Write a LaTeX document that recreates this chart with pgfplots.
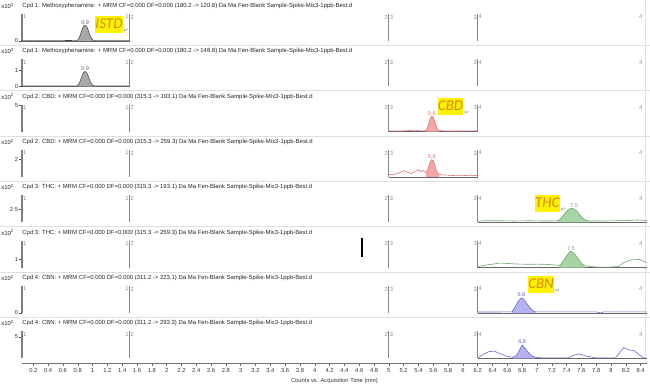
\documentclass[border=0pt]{standalone}
\usepackage{fontspec}
\setmainfont{Liberation Sans}
\newfontfamily\carlito{Carlito}
\newfontfamily\dejavu{DejaVu Sans}
\usepackage{pgfplots}
\pgfplotsset{compat=1.18}

\definecolor{istdline}{HTML}{505050}
\definecolor{istdfill}{HTML}{A8A8A8}
\definecolor{cbdline}{HTML}{E07070}
\definecolor{cbdfill}{HTML}{F5A5A5}
\definecolor{thcline}{HTML}{6EA36E}
\definecolor{thcfill}{HTML}{A6D4A6}
\definecolor{cbnline}{HTML}{6A6AC4}
\definecolor{cbnfill}{HTML}{B4B4F2}
\definecolor{hl}{HTML}{FFF200}
\definecolor{hltext}{HTML}{D98A00}

\newcommand{\tf}{\fontsize{5.8}{6.5}\selectfont}
\newcommand{\ttf}{\fontsize{5.95}{6.5}\selectfont}

\tikzset{
 segline/.style={black!48, line width=1.3pt},
 seglab/.style={font=\tf, text=black!45, inner sep=0.8pt},
 base/.style={black!60, line width=0.5pt},
}
\pgfplotsset{
 panel/.style={scale only axis, width=624.4pt, height=27pt, xmin=0.05, xmax=8.48, ymin=0, clip=false,
   axis x line=none, axis y line*=left, xtick=\empty,
   y axis line style={draw=black!50, line width=2pt, -},
   tick align=outside, ytick pos=left, major tick length=3pt,
   ytick style={black!70, line width=0.5pt},
   yticklabel style={font=\tf, text=black!80, inner sep=1pt},
   /pgf/number format/assume math mode=true,
   anchor=south west},
}

\newcommand{\decor}[3]{%
  \addplot[segline] coordinates {(1.5,0) (1.5,#1)};
  \addplot[segline] coordinates {(5,0) (5,#1)};
  \addplot[segline] coordinates {(6.2,0) (6.2,#1)};
  \node[seglab,anchor=north west] at (axis cs:0.05,#1) {1};
  \node[seglab,anchor=north east] at (axis cs:1.5,#1) {1};
  \node[seglab,anchor=north west] at (axis cs:1.5,#1) {2};
  \node[seglab,anchor=north east] at (axis cs:5,#1) {2};
  \node[seglab,anchor=north west] at (axis cs:5,#1) {3};
  \node[seglab,anchor=north east] at (axis cs:6.2,#1) {3};
  \node[seglab,anchor=north west] at (axis cs:6.2,#1) {4};
  \node[seglab,anchor=north] at (axis cs:8.40,#1) {4};
  \node[anchor=west,inner sep=0,font=\ttf,text=black!85] at ([yshift=8pt]rel axis cs:0,1) {#3};
  \node[anchor=west,inner sep=0,font=\ttf,text=black!85] at ([xshift=-21pt,yshift=8pt]rel axis cs:0,1) {x10\textsuperscript{#2}};
  \draw[black!12, line width=1.5pt] ([xshift=-1pt,yshift=-4.5pt]rel axis cs:1,0) -- ([xshift=-1pt,yshift=14pt]rel axis cs:1,1);
}
\newcommand{\sep}{\draw[black!12, line width=1.2pt] ([xshift=-22.2pt,yshift=-4.5pt]rel axis cs:0,0) -- ([xshift=3.4pt,yshift=-4.5pt]rel axis cs:1,0);}

\newcommand{\annot}[3]{%
 \node[fill=hl, text=hltext, font=\carlito\itshape\fontsize{15}{16}\selectfont, inner xsep=0.3pt, inner ysep=1pt, text height=11pt, text depth=3.5pt] (a) at (rel axis cs:#1,#2) {#3};
 \node[anchor=south west, inner sep=0.5pt, font=\dejavu\fontsize{6}{7}\selectfont, text=black!50] at (a.south east) {↵};
}
\newcommand{\pk}[4]{\node[anchor=south, inner sep=0.8pt, font=\fontsize{5.5}{6}\selectfont, text=#4] at (axis cs:#1,#2) {#3};}

\begin{document}
\begin{tikzpicture}
\path[use as bounding box] (0,0) rectangle (650pt,-387pt);

% ---------- Panel 1 ----------
\begin{axis}[panel, at={(22.2pt,-41pt)}, ymax=1.7, ytick={0}]
\decor{1.7}{3}{Cpd 1: Methoxyphenamine: + MRM CF=0.000 DF=0.000 (180.2 -> 120.8) Da Ma Fen-Blank Sample-Spike-Mix3-1ppb-Best.d}
\sep
\addplot[base] coordinates {(0.05,0) (1.5,0)};
\addplot[fill=istdfill, draw=none] coordinates {(0.78,0.02)(0.80,0.06)(0.82,0.2)(0.84,0.45)(0.86,0.75)(0.88,0.95)(0.90,1.0)(0.92,0.92)(0.94,0.7)(0.96,0.42)(0.98,0.2)(1.00,0.08)(1.02,0.03)(1.05,0.02)} \closedcycle;
\addplot[istdline, line width=0.6pt] coordinates {(0.05,0.02)(0.3,0.02)(0.6,0.02)(0.78,0.02)(0.80,0.06)(0.82,0.2)(0.84,0.45)(0.86,0.75)(0.88,0.95)(0.90,1.0)(0.92,0.92)(0.94,0.7)(0.96,0.42)(0.98,0.2)(1.00,0.08)(1.02,0.03)(1.05,0.02)(1.5,0.02)};
\addplot[black!75, line width=1pt] coordinates {(0.63,0.04)(0.72,0.04)};
\pk{0.9}{1.0}{0.9}{black!60}
\annot{0.139}{0.61}{ISTD}
\end{axis}

% ---------- Panel 2 ----------
\begin{axis}[panel, at={(22.2pt,-86.3pt)}, ymax=1.69, ytick={0,1}]
\decor{1.69}{3}{Cpd 1: Methoxyphenamine: + MRM CF=0.000 DF=0.000 (180.2 -> 148.8) Da Ma Fen-Blank Sample-Spike-Mix3-1ppb-Best.d}
\sep
\addplot[base] coordinates {(0.05,0) (1.5,0)};
\addplot[fill=istdfill, draw=none] coordinates {(0.78,0.02)(0.80,0.05)(0.82,0.18)(0.84,0.42)(0.86,0.7)(0.88,0.88)(0.90,0.93)(0.92,0.86)(0.94,0.65)(0.96,0.4)(0.98,0.18)(1.00,0.07)(1.02,0.03)(1.05,0.02)} \closedcycle;
\addplot[istdline, line width=0.6pt] coordinates {(0.05,0.02)(0.4,0.02)(0.78,0.02)(0.80,0.05)(0.82,0.18)(0.84,0.42)(0.86,0.7)(0.88,0.88)(0.90,0.93)(0.92,0.86)(0.94,0.65)(0.96,0.4)(0.98,0.18)(1.00,0.07)(1.02,0.03)(1.05,0.02)(1.5,0.02)};
\pk{0.9}{0.93}{0.9}{black!60}
\end{axis}

% ---------- Panel 3 ----------
\begin{axis}[panel, at={(22.2pt,-131.7pt)}, ymax=5.1, ytick={5}]
\decor{5.1}{2}{Cpd 2: CBD: + MRM CF=0.000 DF=0.000 (315.3 -> 193.1) Da Ma Fen-Blank Sample-Spike-Mix3-1ppb-Best.d}
\sep
\addplot[base] coordinates {(5,0) (6.2,0)};
\addplot[fill=cbdfill, draw=none] coordinates {(5.5,0.2)(5.52,0.6)(5.54,1.5)(5.56,2.5)(5.58,2.95)(5.60,2.7)(5.62,1.9)(5.64,1.0)(5.66,0.4)(5.68,0.2)} \closedcycle;
\addplot[cbdline, line width=0.6pt] coordinates {(5.0,0.15)(5.1,0.12)(5.2,0.15)(5.3,0.25)(5.35,0.3)(5.4,0.2)(5.45,0.15)(5.5,0.2)(5.52,0.6)(5.54,1.5)(5.56,2.5)(5.58,2.95)(5.60,2.7)(5.62,1.9)(5.64,1.0)(5.66,0.4)(5.68,0.2)(5.75,0.15)(5.9,0.12)(6.0,0.15)(6.2,0.15)};
\pk{5.58}{2.95}{5.6}{cbdline}
\annot{0.686}{0.94}{CBD}
\end{axis}

% ---------- Panel 4 ----------
\begin{axis}[panel, at={(22.2pt,-177pt)}, ymax=3.0, ytick={2}]
\decor{3.0}{2}{Cpd 2: CBD: + MRM CF=0.000 DF=0.000 (315.3 -> 259.3) Da Ma Fen-Blank Sample-Spike-Mix3-1ppb-Best.d}
\sep
\addplot[base] coordinates {(5,0) (6.2,0)};
\addplot[fill=cbdfill, draw=none] coordinates {(5.5,0.5)(5.52,0.7)(5.54,1.2)(5.56,1.7)(5.58,1.93)(5.60,1.8)(5.62,1.3)(5.64,0.7)(5.66,0.4)(5.68,0.3)} \closedcycle;
\addplot[cbdline, line width=0.6pt] coordinates {(5.0,0.3)(5.05,0.25)(5.1,0.35)(5.15,0.5)(5.2,0.7)(5.25,0.55)(5.3,0.4)(5.35,0.6)(5.4,0.8)(5.43,0.6)(5.46,0.75)(5.5,0.5)(5.52,0.7)(5.54,1.2)(5.56,1.7)(5.58,1.93)(5.60,1.8)(5.62,1.3)(5.64,0.7)(5.66,0.4)(5.7,0.25)(5.8,0.2)(5.9,0.15)(6.0,0.15)(6.1,0.2)(6.2,0.15)};
\pk{5.58}{1.93}{5.6}{cbdline}
\end{axis}

% ---------- Panel 5 ----------
\begin{axis}[panel, at={(22.2pt,-222.3pt)}, ymax=5.2, ytick={2.5}]
\decor{5.2}{2}{Cpd 3: THC: + MRM CF=0.000 DF=0.000 (315.3 -> 193.1) Da Ma Fen-Blank Sample-Spike-Mix3-1ppb-Best.d}
\sep
\addplot[base] coordinates {(6.2,0) (8.48,0)};
\addplot[fill=thcfill, draw=none] coordinates {(7.28,0.3)(7.32,0.7)(7.36,1.4)(7.40,2.1)(7.44,2.6)(7.47,2.7)(7.50,2.55)(7.54,2.1)(7.58,1.4)(7.62,0.75)(7.66,0.35)(7.70,0.25)} \closedcycle;
\addplot[thcline, line width=0.6pt] coordinates {(6.2,0.2)(6.3,0.3)(6.5,0.3)(6.7,0.25)(6.9,0.3)(7.1,0.25)(7.2,0.25)(7.28,0.3)(7.32,0.7)(7.36,1.4)(7.40,2.1)(7.44,2.6)(7.47,2.7)(7.50,2.55)(7.54,2.1)(7.58,1.4)(7.62,0.75)(7.66,0.35)(7.70,0.25)(7.9,0.25)(8.1,0.3)(8.25,0.35)(8.35,0.45)(8.48,0.35)};
\pk{7.50}{2.7}{7.5}{thcline}
\annot{0.841}{0.69}{THC}
\end{axis}

% ---------- Panel 6 ----------
\begin{axis}[panel, at={(22.2pt,-267.7pt)}, ymax=3.2, ytick={1}]
\decor{3.2}{2}{Cpd 3: THC: + MRM CF=0.000 DF=0.000 (315.3 -> 259.3) Da Ma Fen-Blank Sample-Spike-Mix3-1ppb-Best.d}
\sep
\addplot[base] coordinates {(6.2,0) (8.48,0)};
\addplot[fill=thcfill, draw=none] coordinates {(7.3,0.27)(7.33,0.5)(7.37,1.0)(7.41,1.5)(7.45,1.95)(7.48,1.85)(7.52,1.5)(7.56,1.0)(7.60,0.5)(7.64,0.25)} \closedcycle;
\addplot[thcline, line width=0.6pt] coordinates {(6.2,0.15)(6.3,0.3)(6.4,0.42)(6.5,0.55)(6.6,0.5)(6.7,0.45)(6.8,0.42)(6.9,0.4)(7.0,0.42)(7.1,0.4)(7.2,0.35)(7.3,0.27)(7.33,0.5)(7.37,1.0)(7.41,1.5)(7.45,1.95)(7.48,1.85)(7.52,1.5)(7.56,1.0)(7.60,0.5)(7.64,0.25)(7.7,0.15)(7.85,0.05)(8.0,0.08)(8.1,0.15)(8.17,0.6)(8.24,0.86)(8.3,0.95)(8.38,0.98)(8.44,0.75)(8.48,0.6)};
\pk{7.46}{1.95}{7.5}{thcline}
\addplot[black, line width=1.4pt] coordinates {(4.64,1.3)(4.64,3.55)};
\end{axis}

% ---------- Panel 7 ----------
\begin{axis}[panel, at={(22.2pt,-313pt)}, ymax=1.84, ytick={0}]
\decor{1.84}{2}{Cpd 4: CBN: + MRM CF=0.000 DF=0.000 (311.2 -> 223.1) Da Ma Fen-Blank Sample-Spike-Mix3-1ppb-Best.d}
\sep
\addplot[base] coordinates {(6.2,0) (8.48,0)};
\addplot[fill=cbnfill, draw=none] coordinates {(6.66,0.08)(6.70,0.35)(6.74,0.75)(6.78,1.0)(6.80,1.02)(6.83,0.88)(6.86,0.65)(6.90,0.38)(6.94,0.17)(6.98,0.08)} \closedcycle;
\addplot[cbnline, line width=0.6pt] coordinates {(6.2,0.07)(6.5,0.07)(6.66,0.08)(6.70,0.35)(6.74,0.75)(6.78,1.0)(6.80,1.02)(6.83,0.88)(6.86,0.65)(6.90,0.38)(6.94,0.17)(6.98,0.08)(7.4,0.08)(7.8,0.08)(7.86,0.0)(7.9,0.08)(8.48,0.08)};
\pk{6.79}{1.02}{6.8}{cbnline}
\annot{0.831}{1.056}{CBN}
\end{axis}

% ---------- Panel 8 ----------
\begin{axis}[panel, at={(22.2pt,-358.3pt)}, ymax=6.3, ytick={5}]
\decor{6.3}{2}{Cpd 4: CBN: + MRM CF=0.000 DF=0.000 (311.2 -> 293.3) Da Ma Fen-Blank Sample-Spike-Mix3-1ppb-Best.d}
\addplot[base] coordinates {(6.2,0) (8.48,0)};
\addplot[fill=cbnfill, draw=none] coordinates {(6.67,0.23)(6.72,0.6)(6.76,1.8)(6.80,3.1)(6.84,2.3)(6.88,1.4)(6.93,0.6)(6.98,0.23)} \closedcycle;
\addplot[cbnline, line width=0.6pt] coordinates {(6.2,0.1)(6.26,0.77)(6.35,1.55)(6.42,1.71)(6.49,1.17)(6.58,0.54)(6.67,0.23)(6.72,0.6)(6.76,1.8)(6.80,3.1)(6.84,2.3)(6.88,1.4)(6.93,0.6)(6.98,0.23)(7.07,0.1)(7.43,0.1)(7.50,0.77)(7.57,1.0)(7.66,0.54)(7.79,0.1)(8.06,0.1)(8.17,2.5)(8.24,1.95)(8.31,1.8)(8.40,0.54)(8.44,0.1)(8.48,0.1)};
\pk{6.80}{3.1}{6.8}{cbnline}
\end{axis}

% ---------- Bottom time axis ----------
\begin{axis}[scale only axis, width=624.4pt, height=1pt, at={(22.2pt,-363.5pt)}, anchor=south west,
  xmin=0.05, xmax=8.48, ymin=0, ymax=1, axis y line=none, axis x line*=bottom, clip=false,
  x axis line style={black!55, line width=0.8pt, -},
  xtick={0.2,0.4,...,8.4}, tick align=outside, major tick length=2pt,
  xtick style={black!60, line width=0.5pt},
  /pgf/number format/assume math mode=true,
  xticklabel style={font=\tf, text=black!80, inner sep=1pt, yshift=-1.5pt}]
\node[font=\tf, text=black!80, inner sep=0pt] at ([yshift=-17.5pt]rel axis cs:0.5,0) {Counts vs. Acquisition Time (min)};
\end{axis}
\end{tikzpicture}
\end{document}
